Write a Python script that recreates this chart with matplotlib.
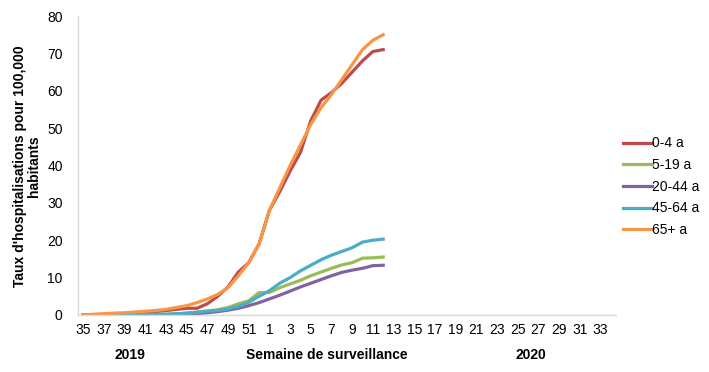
import matplotlib
matplotlib.use("Agg")
import matplotlib.pyplot as plt
import numpy as np

plt.rcParams['font.family'] = ['Liberation Sans', 'DejaVu Sans']

weeks = [str(w) for w in list(range(35, 53)) + list(range(1, 35))]

series_names = ["0-4 a", "5-19 a", "20-44 a", "45-64 a", "65+ a"]
colors = ["#BE4B48", "#9BBB59", "#8064A2", "#4BACC6", "#F79646"]

# weeks 35..52 (2019) then 1..12 (2020)
age_0_4 = [0, 0.1, 0.2, 0.3, 0.4, 0.5, 0.7, 0.9, 1.2, 1.5, 1.8, 1.8, 3.0, 5.0, 7.5, 11.5, 14, 19,
           28, 33, 38.5, 43.5, 52, 57.5, 59.5, 62, 65, 68, 70.5, 71]
age_5_19 = [0, 0, 0, 0, 0, 0, 0.1, 0.1, 0.2, 0.3, 0.5, 0.8, 1.1, 1.4, 2.0, 3.0, 3.8, 6.0,
            6.0, 7.3, 8.3, 9.3, 10.5, 11.5, 12.5, 13.4, 14.0, 15.2, 15.3, 15.5]
age_20_44 = [0, 0, 0, 0, 0, 0, 0, 0.1, 0.1, 0.2, 0.3, 0.4, 0.6, 0.9, 1.3, 1.8, 2.5, 3.3,
             4.3, 5.3, 6.4, 7.5, 8.5, 9.5, 10.5, 11.4, 12.0, 12.5, 13.2, 13.3]
age_45_64 = [0, 0, 0, 0, 0, 0.1, 0.1, 0.2, 0.2, 0.3, 0.5, 0.7, 1.0, 1.2, 1.6, 2.3, 3.4, 5.0,
             6.5, 8.5, 10.0, 11.8, 13.3, 14.8, 16.0, 17.0, 18.0, 19.5, 20.0, 20.3]
age_65 = [0, 0.2, 0.3, 0.5, 0.6, 0.8, 1.0, 1.2, 1.5, 2.0, 2.5, 3.3, 4.3, 5.5, 7.3, 10.5, 14, 19,
          28, 34, 40, 45.5, 51, 55.5, 59, 63, 67, 71, 73.5, 75]

data = [age_0_4, age_5_19, age_20_44, age_45_64, age_65]

fig = plt.figure(figsize=(7.09, 3.72), dpi=100)
ax = fig.add_axes([78/709, 1-315/372, (616-78)/709, (315-16)/372])

x_all = np.arange(len(weeks))
for name, vals, c in zip(series_names, data, colors):
    ax.plot(x_all[:len(vals)], vals, color=c, lw=2.3, label=name, solid_joinstyle='round')

ax.set_xlim(-0.5, len(weeks) - 0.5)
ax.set_ylim(0, 80)
ax.set_yticks(np.arange(0, 81, 10))
ax.set_xticks(x_all[::2])
ax.set_xticklabels(weeks[::2])
ax.tick_params(axis='both', length=0, labelsize=10, colors='#000000')
ax.tick_params(axis='x', pad=6)
ax.tick_params(axis='y', pad=11)
for s in ['top', 'right']:
    ax.spines[s].set_visible(False)
for s in ['left', 'bottom']:
    ax.spines[s].set_color('#D9D9D9')
    ax.spines[s].set_linewidth(1.0)

fig.text(27/709, 1-166/372, "Taux d'hospitalisations pour 100,000\nhabitants", rotation=90,
         ha='center', va='center', fontsize=10, fontweight='bold', linespacing=1.0)
fig.text(130/709, 1-355/372, "2019", ha='center', va='center', fontsize=10, fontweight='bold')
fig.text(327/709, 1-355/372, "Semaine de surveillance", ha='center', va='center', fontsize=10, fontweight='bold')
fig.text(531/709, 1-355/372, "2020", ha='center', va='center', fontsize=10, fontweight='bold')

leg = fig.legend(loc='upper left', bbox_to_anchor=(610/709, 1-124/372), frameon=False,
                 fontsize=10, handlelength=2.1, handletextpad=0.0, labelspacing=0.55)

fig.savefig("out.png", dpi=100, facecolor='white')
